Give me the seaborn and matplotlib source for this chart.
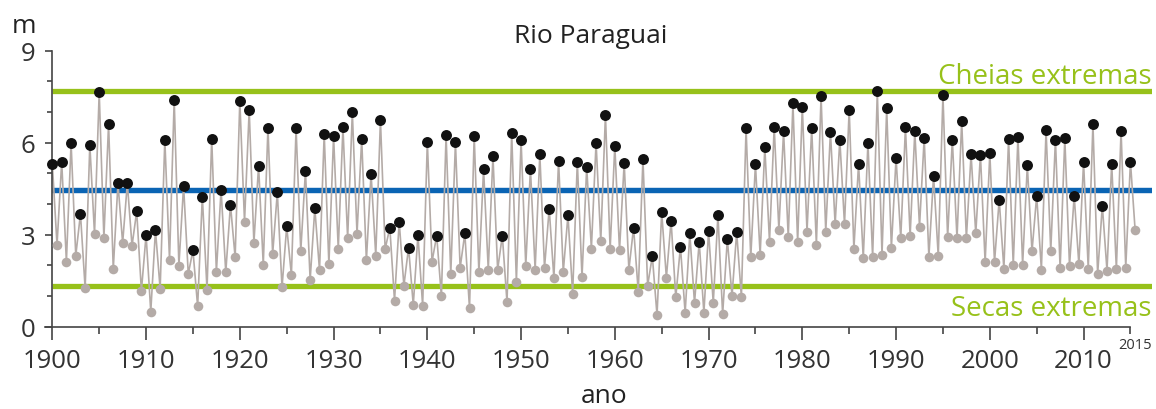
import numpy as np
import pandas as pd
import matplotlib
matplotlib.use('Agg')
import matplotlib.pyplot as plt
from matplotlib.ticker import MultipleLocator, FixedLocator
import seaborn as sns

sns.set_style('white')
plt.rcParams['font.family'] = ['Open Sans', 'DejaVu Sans']

# Data ####################################################################
years = np.arange(1900, 2016)
# annual maximum level (m), black dots
cheia = [5.30, 5.38, 5.99, 3.68, 5.93, 7.64, 6.61, 4.68, 4.68, 3.76,
         2.99, 3.15, 6.10, 7.40, 4.59, 2.49, 4.24, 6.13, 4.47, 3.98,
         7.37, 7.07, 5.25, 6.49, 4.38, 3.27, 6.47, 5.08, 3.86, 6.29,
         6.21, 6.50, 6.99, 6.12, 4.99, 6.74, 3.23, 3.42, 2.58, 2.99,
         6.03, 2.97, 6.25, 6.01, 3.04, 6.23, 5.14, 5.57, 2.97, 6.32,
         6.08, 5.15, 5.63, 3.85, 5.41, 3.63, 5.38, 5.20, 6.00, 6.91,
         5.90, 5.34, 3.23, 5.47, 2.30, 3.73, 3.46, 2.61, 3.04, 2.77,
         3.12, 3.64, 2.85, 3.08, 6.47, 5.30, 5.85, 6.51, 6.37, 7.29,
         7.17, 6.47, 7.51, 6.36, 6.10, 7.08, 5.32, 5.99, 7.67, 7.12,
         5.50, 6.50, 6.37, 6.15, 4.92, 7.55, 6.10, 6.70, 5.62, 5.61,
         5.66, 4.14, 6.11, 6.18, 5.26, 4.27, 6.41, 6.10, 6.15, 4.27,
         5.37, 6.62, 3.95, 5.32, 6.39, 5.38]
# annual minimum level (m), grey dots
seca = [2.67, 2.12, 2.32, 1.25, 3.02, 2.89, 1.88, 2.73, 2.64, 1.17,
        0.49, 1.23, 2.18, 1.99, 1.72, 0.66, 1.21, 1.79, 1.77, 2.26,
        3.42, 2.73, 2.01, 2.37, 1.28, 1.68, 2.47, 1.53, 1.84, 2.03,
        2.53, 2.88, 3.03, 2.16, 2.32, 2.53, 0.85, 1.34, 0.71, 0.68,
        2.12, 0.99, 1.71, 1.92, 0.60, 1.77, 1.86, 1.86, 0.79, 1.47,
        1.99, 1.86, 1.92, 1.58, 1.79, 1.08, 1.62, 2.55, 2.79, 2.53,
        2.49, 1.86, 1.14, 1.34, 0.38, 1.60, 0.96, 0.45, 0.77, 0.45,
        0.77, 0.40, 1.01, 0.97, 2.26, 2.34, 2.77, 3.16, 2.92, 2.75,
        3.10, 2.68, 3.10, 3.34, 3.34, 2.53, 2.23, 2.27, 2.34, 2.57,
        2.88, 2.96, 3.26, 2.28, 2.30, 2.91, 2.88, 2.88, 3.04, 2.10,
        2.10, 1.88, 2.01, 2.02, 2.46, 1.86, 2.47, 1.90, 1.98, 2.03,
        1.89, 1.71, 1.83, 1.88, 1.93, 3.15]
nivel_medio = 4.46
cheia_extrema = 7.67
seca_extrema = 1.33

# Colours
verde = '#97c11a'
azul = '#0a64b4'
cinza = '#b4aba7'

# Long table: max in the year, min half a year later ######################
df_max = pd.DataFrame({'ano': years, 'nivel': cheia, 'tipo': 'max'})
df_min = pd.DataFrame({'ano': years + 0.5, 'nivel': seca, 'tipo': 'min'})
df = pd.concat([df_max, df_min]).sort_values('ano').reset_index(drop=True)

# Plot ####################################################################
fig = plt.figure(figsize=(11.56, 4.10), dpi=100)
# axes box: x from 1899.25 (px 45.3) to 2017.3 (px 1152), y 0..9 (px 327.7..51.7)
ax = fig.add_axes([45.3 / 1156, 82.3 / 410, (1152 - 45.3) / 1156, (327.7 - 51.7) / 410])

x_end = 2017.3
ax.hlines([cheia_extrema, seca_extrema], 1900, x_end, color=verde, lw=3.8, zorder=1)
ax.hlines(nivel_medio, 1900, x_end, color=azul, lw=3.9, zorder=1)

sns.lineplot(data=df, x='ano', y='nivel', ax=ax, color=cinza, lw=1.2,
             sort=False, estimator=None, zorder=2)
sns.scatterplot(data=df[df['tipo'] == 'min'], x='ano', y='nivel', ax=ax,
                color=cinza, s=48, linewidth=0, zorder=3)
sns.scatterplot(data=df[df['tipo'] == 'max'], x='ano', y='nivel', ax=ax,
                color='#111111', s=62, linewidth=0, zorder=4)

ax.set_xlim(1899.25, x_end)
ax.set_ylim(0, 9)
ax.set_xlabel('')
ax.set_ylabel('')

# Spines
for s in ['top', 'right']:
    ax.spines[s].set_visible(False)
ax.spines['left'].set_position(('data', 1900))
ax.spines['left'].set_bounds(0, 9)
ax.spines['bottom'].set_bounds(1899.25, 2015)
for s in ['left', 'bottom']:
    ax.spines[s].set_color('#444444')
    ax.spines[s].set_linewidth(1.2)

# Ticks
ax.xaxis.set_major_locator(FixedLocator(list(range(1900, 2011, 10))))
ax.xaxis.set_minor_locator(FixedLocator(list(range(1905, 2006, 10)) + [2015]))
ax.yaxis.set_major_locator(MultipleLocator(3))
ax.yaxis.set_minor_locator(MultipleLocator(1))
ax.tick_params(axis='x', which='major', direction='out', length=9, width=1.2,
               color='#444444', labelsize=18.5, labelcolor='#333333', pad=6, bottom=True)
ax.tick_params(axis='x', which='minor', direction='out', length=5, width=1.2,
               color='#444444', bottom=True)
ax.tick_params(axis='y', which='major', direction='out', length=5, width=1.2,
               color='#444444', labelsize=18.5, labelcolor='#333333', pad=7, left=True)
ax.tick_params(axis='y', which='minor', direction='out', length=3.5, width=1.2,
               color='#444444', left=True)
ax.text(2015.5, -0.58, '2015', ha='center', va='center', fontsize=10.5, color='#333333')

# Labels
ax.text(x_end, 7.95, 'Cheias extremas', ha='right', va='baseline', fontsize=20, color=verde)
ax.text(x_end, 0.38, 'Secas extremas', ha='right', va='baseline', fontsize=20, color=verde)
fig.text(591 / 1156, 1 - 43 / 410, 'Rio Paraguai', ha='center', va='baseline',
         fontsize=19, color='#222222')
fig.text(24 / 1156, 1 - 33 / 410, 'm', ha='center', va='baseline', fontsize=19, color='#222222')
fig.text(604 / 1156, 1 - 403 / 410, 'ano', ha='center', va='baseline', fontsize=19, color='#222222')

fig.savefig('out.png', dpi=100)
